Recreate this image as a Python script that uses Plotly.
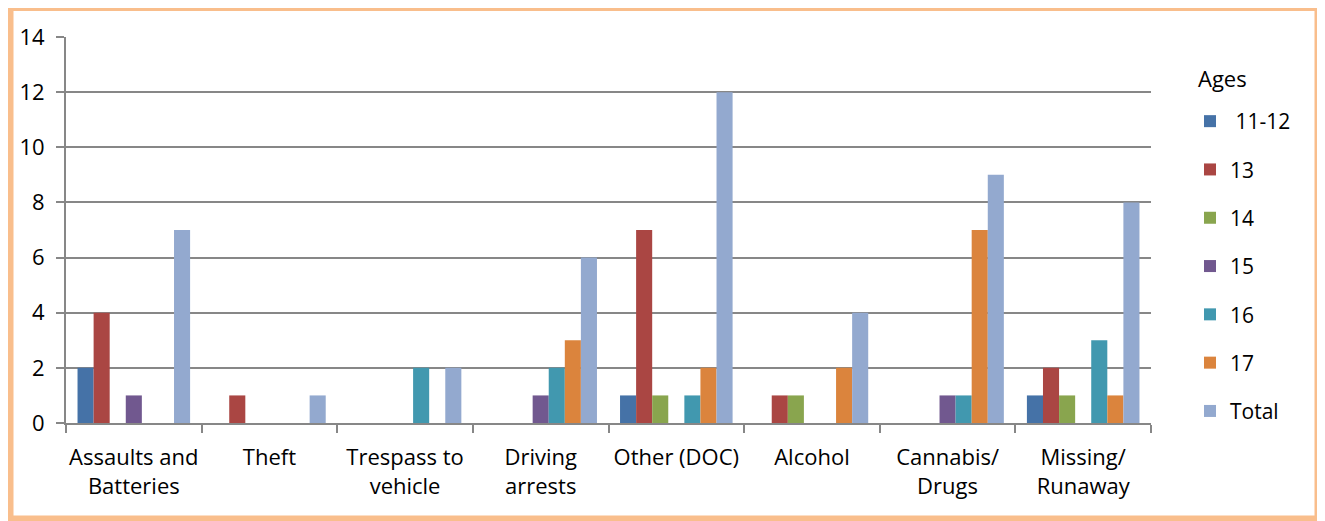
import plotly.graph_objects as go

categories = ["Assaults and<br>Batteries", "Theft", "Trespass to<br>vehicle", "Driving<br>arrests",
              "Other (DOC)", "Alcohol", "Cannabis/<br>Drugs", "Missing/<br>Runaway"]
series_names = [" 11-12", "13", "14", "15", "16", "17", "Total"]
age_11_12 = [2, 0, 0, 0, 1, 0, 0, 1]
age_13 = [4, 1, 0, 0, 7, 1, 0, 2]
age_14 = [0, 0, 0, 0, 1, 1, 0, 1]
age_15 = [1, 0, 0, 1, 0, 0, 1, 0]
age_16 = [0, 0, 2, 2, 1, 0, 1, 3]
age_17 = [0, 0, 0, 3, 2, 2, 7, 1]
total = [7, 1, 2, 6, 12, 4, 9, 8]
colors = ["#4572A7", "#AA4643", "#89A54E", "#71588F", "#4198AF", "#DB843D", "#93A9CF"]

all_series = [age_11_12, age_13, age_14, age_15, age_16, age_17, total]

# page has an 8px body margin; figure pixel = page pixel - 8
OFF = 8
W, H = 1325 - OFF, 521 - OFF
ML = 66 - OFF
MT = 37 - OFF
PW = 1151 - 66
PH = 423 - 37
MR = W - ML - PW
MB = H - MT - PH

fig = go.Figure()
for name, vals, col in zip(series_names, all_series, colors):
    fig.add_trace(go.Bar(x=categories, y=vals, name=name, marker_color=col,
                         marker_line_width=0, legendgroup=name))

def px_x(p):
    return (p - OFF - ML) / PW

def px_y(p):
    return (H - MB - (p - OFF)) / PH

fig.add_shape(type="rect", xref="paper", yref="paper",
              x0=px_x(10.5), x1=px_x(1317.5), y0=px_y(518.5), y1=px_y(8),
              line=dict(color="#F9BE8C", width=6), layer="below")

fig.add_annotation(text="Ages", xref="paper", yref="paper", x=px_x(1196), y=px_y(78),
                   xanchor="left", yanchor="middle", showarrow=False,
                   font=dict(size=22, color="black"))

fig.update_layout(
    width=W, height=H,
    margin=dict(l=ML, r=MR, t=MT, b=MB, autoexpand=False),
    paper_bgcolor="white", plot_bgcolor="white",
    barmode="group", bargap=0.17, bargroupgap=0,
    font=dict(family="Open Sans", size=22, color="black"),
    legend=dict(x=px_x(1190), y=px_y(101), xanchor="left", yanchor="top",
                tracegroupgap=18, font=dict(size=21)),
    xaxis=dict(showline=True, linecolor="#878787", linewidth=2,
               ticks="outside", tickson="boundaries", ticklen=8, tickcolor="#878787",
               tickwidth=2, showgrid=False, ticklabelstandoff=14,
               tickangle=0, automargin=False),
    yaxis=dict(range=[0, 14], dtick=2, showline=True, linecolor="#878787", linewidth=2,
               ticks="outside", ticklen=8, tickcolor="#878787", tickwidth=2,
               showgrid=True, gridcolor="#878787", gridwidth=2, zeroline=False,
               ticklabelstandoff=7, automargin=False),
)

fig.write_html("out.html")
